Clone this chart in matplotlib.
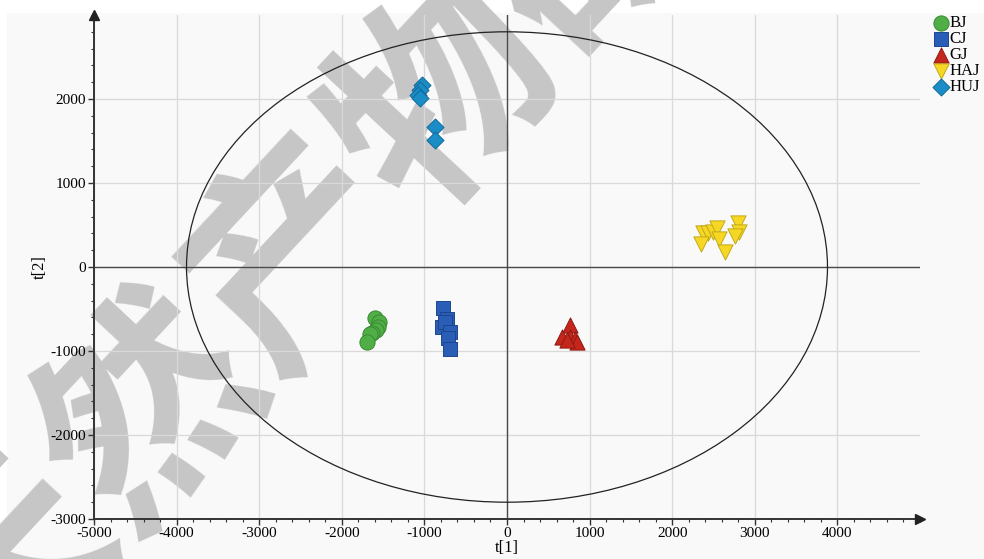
import matplotlib
matplotlib.use("Agg")
import matplotlib.pyplot as plt
from matplotlib.patches import Ellipse, Rectangle
from matplotlib.ticker import MultipleLocator

plt.rcParams["axes.unicode_minus"] = False

# PCA score coordinates t[1], t[2] per group
groups = ["BJ", "CJ", "GJ", "HAJ", "HUJ"]

bj_t1 = [-1600, -1550, -1560, -1590, -1630, -1660, -1700]
bj_t2 = [-610, -660, -710, -750, -780, -800, -890]

cj_t1 = [-770, -730, -790, -750, -690, -720, -690]
cj_t2 = [-490, -620, -720, -660, -770, -840, -975]

gj_t1 = [760, 665, 760, 820, 850, 725]
gj_t2 = [-690, -835, -835, -860, -895, -870]

haj_t1 = [2370, 2430, 2490, 2540, 2565, 2345, 2640, 2795, 2805, 2760]
haj_t2 = [405, 405, 415, 465, 335, 275, 180, 525, 415, 370]

huj_t1 = [-1030, -1050, -1075, -1050, -870, -870]
huj_t2 = [2165, 2105, 2045, 2010, 1665, 1510]

# Hotelling T2 (95%) ellipse semi-axes
t2_a = 3880
t2_b = 2800

styles = {
    "BJ": dict(marker="o", fc="#4fae45", ec="#3a8a33", s=120),
    "CJ": dict(marker="s", fc="#2a5db5", ec="#1d468e", s=95),
    "GJ": dict(marker="^", fc="#c4261b", ec="#8e1a12", s=120),
    "HAJ": dict(marker="v", fc="#f6d824", ec="#c2a818", s=120),
    "HUJ": dict(marker="D", fc="#1a8cc6", ec="#12699a", s=75),
}
data = {
    "BJ": (bj_t1, bj_t2),
    "CJ": (cj_t1, cj_t2),
    "GJ": (gj_t1, gj_t2),
    "HAJ": (haj_t1, haj_t2),
    "HUJ": (huj_t1, huj_t2),
}

serif = ["Liberation Serif", "DejaVu Serif"]

fig = plt.figure(figsize=(9.84, 5.59), dpi=100)
fig.patch.set_facecolor("white")
fig.patches.append(Rectangle((7 / 984, 0), 1, 1 - 13 / 559, transform=fig.transFigure,
                             facecolor="#f9f9f9", edgecolor="none", zorder=-3))

# journal watermark behind the plot
fig.text(300 / 984, 1 - 255 / 559, "天然产物研", fontsize=155, fontweight="bold",
         family=["Noto Sans CJK SC", "DejaVu Sans"], color="#c6c6c6",
         rotation=47, rotation_mode="anchor", ha="center", va="center", zorder=-2)

ax = fig.add_axes([94 / 984, 1 - 519 / 559, 826 / 984, 504 / 559])
ax.set_facecolor("none")
ax.set_xlim(-5000, 5000)
ax.set_ylim(-3000, 3000)

ax.xaxis.set_minor_locator(MultipleLocator(200))
ax.yaxis.set_minor_locator(MultipleLocator(200))
ax.set_xticks([v for v in range(-5000, 5000, 1000)])
ax.set_yticks([v for v in range(-3000, 3000, 1000)])

ax.grid(True, which="major", color="#d9d9d9", lw=0.9, zorder=0)
ax.set_axisbelow(True)
ax.axhline(0, color="#4a4a4a", lw=1.0, zorder=1)
ax.axvline(0, color="#4a4a4a", lw=1.0, zorder=1)

for side in ("top", "right"):
    ax.spines[side].set_visible(False)
for side in ("left", "bottom"):
    ax.spines[side].set_color("#333333")
    ax.spines[side].set_linewidth(1.4)
ax.tick_params(which="major", length=4, width=1, color="#333333", labelsize=11,
               pad=1.5)
ax.tick_params(which="minor", length=2.5, width=0.8, color="#333333")
for lab in ax.get_xticklabels() + ax.get_yticklabels():
    lab.set_family(serif)

ax.plot(0, 1, marker="^", ms=7, color="#222222", transform=ax.transAxes,
        clip_on=False, zorder=5)
ax.plot(1, 0, marker=">", ms=7, color="#222222", transform=ax.transAxes,
        clip_on=False, zorder=5)

ax.add_patch(Ellipse((0, 0), 2 * t2_a, 2 * t2_b, fill=False, ec="#222222",
                     lw=0.9, zorder=2))

handles = []
for g in groups:
    st = styles[g]
    h = ax.scatter(data[g][0], data[g][1], marker=st["marker"], s=st["s"],
                   facecolor=st["fc"], edgecolor=st["ec"], linewidths=0.7,
                   zorder=3, label=g)
    handles.append(h)

ax.set_xlabel("t[1]", family=serif, fontsize=12, labelpad=0)
ax.set_ylabel("t[2]", family=serif, fontsize=12, labelpad=2)

leg = fig.legend(handles=handles, loc="upper left", bbox_to_anchor=(923 / 984, 1 - 7 / 559),
                 frameon=False, prop={"family": serif, "size": 12},
                 handletextpad=0.0, labelspacing=0.0, borderpad=0, handlelength=1.1,
                 scatterpoints=1)

fig.savefig("out.png", dpi=100)
